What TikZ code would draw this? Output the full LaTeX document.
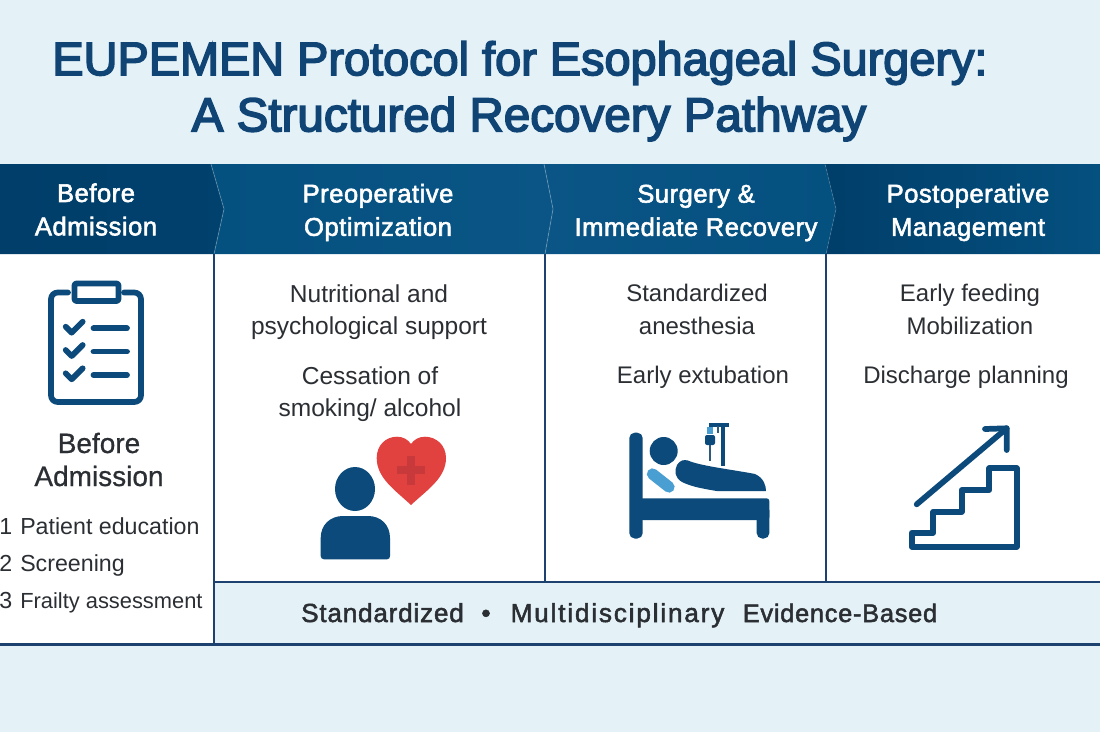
\documentclass[tikz,border=0pt]{standalone}
\usepackage{fontspec}
\setmainfont{Liberation Sans}
\newfontfamily\semifont[FakeBold=3.4]{Liberation Sans}
\newfontfamily\medfont[FakeBold=0.7]{Liberation Sans}
\newfontfamily\headfont[FakeBold=2.2,LetterSpace=2]{Liberation Sans}
\newfontfamily\footfont[FakeBold=2,LetterSpace=3]{Liberation Sans}
\newfontfamily\footwidefont[FakeBold=2,LetterSpace=7]{Liberation Sans}
\definecolor{bgc}{HTML}{E4F2F8}
\definecolor{navy}{HTML}{0B4A7A}
\definecolor{titlec}{HTML}{0F4474}
\definecolor{linec}{HTML}{1E4270}
\definecolor{ink}{HTML}{2B2F33}
\definecolor{hdA}{HTML}{013E6A}
\definecolor{hdB}{HTML}{04507F}
\definecolor{hdC}{HTML}{0A5585}
\definecolor{heartc}{HTML}{E2423F}
\definecolor{crossc}{HTML}{C8393B}
\definecolor{sky}{HTML}{4A9FD2}
\tikzset{
  titletxt/.style={inner sep=0,text=titlec,font=\fontsize{35.15}{42}\semifont,align=center},
  titlewide/.style={inner sep=0,text=titlec,font=\fontsize{35.7}{42}\semifont,align=center},
  headtxt/.style={inner sep=0,text=white,font=\fontsize{19.2}{25}\headfont,align=center},
  bodytxt/.style={inner sep=0,text=ink,font=\fontsize{18}{24.5}\selectfont,align=center},
  bodywide/.style={inner sep=0,text=ink,font=\fontsize{18.4}{24.5}\selectfont,align=center},
  listtxt/.style={inner sep=0,text=ink,font=\fontsize{17.4}{20}\selectfont,anchor=base west},
  listtight/.style={inner sep=0,text=ink,font=\fontsize{16.4}{20}\selectfont,anchor=base west},
  subtxt/.style={inner sep=0,text=ink,font=\fontsize{21}{24.75}\medfont,align=center},
  foottxt/.style={inner sep=0,text=ink,font=\fontsize{19.6}{24}\footfont,anchor=base},
  footwide/.style={inner sep=0,text=ink,font=\fontsize{19.6}{24}\footwidefont,anchor=base},
  footshort/.style={inner sep=0,text=ink,font=\fontsize{19}{24}\footfont,anchor=base},
  rule/.style={draw=linec,line width=1.4pt},
  icon/.style={draw=navy,line width=4.3pt,line cap=round,line join=round}
}
\begin{document}
\begin{tikzpicture}[x=0.75pt,y=-0.75pt]
\useasboundingbox (0,0) rectangle (1100,732);
\fill[bgc] (0,0) rectangle (1100,732);
% panel
\fill[white] (0,254) rectangle (1100,644);
\fill[bgc] (214,582) rectangle (1100,644);
% header bands
\shade[left color=hdA,right color=hdA!85!hdB] (0,164) -- (211,164) -- (224,209) -- (214,254) -- (0,254) -- cycle;
\shade[left color=hdB,right color=hdC] (211,164) -- (544,164) -- (553,209) -- (545,254) -- (214,254) -- (224,209) -- cycle;
\shade[left color=hdC,right color=hdB] (544,164) -- (825,164) -- (836,209) -- (826,254) -- (545,254) -- (553,209) -- cycle;
\shade[left color=hdA,right color=hdB] (825,164) -- (1100,164) -- (1100,254) -- (826,254) -- (836,209) -- cycle;
\draw[white,opacity=.22,line width=.7pt] (211,164) -- (224,209) -- (214,254);
\draw[white,opacity=.22,line width=.7pt] (544,164) -- (553,209) -- (545,254);
\draw[white,opacity=.12,line width=.7pt] (825,164) -- (836,209) -- (826,254);
% rules
\draw[rule] (214,254) -- (214,644);
\draw[rule] (545,254) -- (545,582);
\draw[rule] (826,254) -- (826,582);
\draw[rule] (214,582) -- (1100,582);
\draw[rule,line width=2pt] (0,644.5) -- (1100,644.5);
% title
\node[titletxt] (t1) at (520,63) {EUPEMEN Protocol for Esophageal Surgery:};
\node[titlewide] (t2) at (529,119) {A Structured Recovery Pathway};
% headers
\node[headtxt] (h1) at (96,209.5) {Before\\Admission};
\node[headtxt] (h2) at (378,212.5) {Preoperative\\Optimization};
\node[headtxt] (h3) at (696,213) {Surgery \&\\Immediate Recovery};
\node[headtxt] (h4) at (968,212.5) {Postoperative\\Management};
% column 1
\node[subtxt] (s1) at (99,459.5) {Before\\Admission};
\node[listtxt] (n1) at (-1,534) {1};
\node[listtxt] (l1) at (20,534) {Patient education};
\node[listtxt] (n2) at (-1,571) {2};
\node[listtxt] (l2) at (20,571) {Screening};
\node[listtxt] (n3) at (-1,608) {3};
\node[listtight] (l3) at (20,608) {Frailty assessment};
% column 2
\node[bodywide] (b1) at (369,312) {Nutritional and\\psychological support};
\node[bodywide] (b2) at (370,394) {Cessation of\\smoking/ alcohol};
% column 3
\node[bodytxt] (c1) at (697,309.5) {Standardized\\anesthesia};
\node[bodytxt] (c2) at (703,377) {Early extubation};
% column 4
\node[bodytxt] (d1) at (970,309.5) {Early feeding\\Mobilization};
\node[bodytxt] (d2) at (966,377) {Discharge planning};
% footer
\node[foottxt] (f1) at (382.5,622) {Standardized};
\node[foottxt] (f2) at (486,622) {•};
\node[footwide] (f3) at (617.5,622) {Multidisciplinary};
\node[footshort] (f4) at (840,622) {Evidence-Based};
% clipboard icon
\draw[icon,rounded corners=5pt] (68,292.5) -- (51,292.5) -- (51,402) -- (141,402) -- (141,292.5) -- (124,292.5);
\draw[icon,rounded corners=1.5pt] (74.5,283.5) rectangle (118.5,301);
\foreach \dy in {0,23.3,46.6}{
  \draw[icon] (65.7,326.7+\dy) -- (71.7,332.7+\dy) -- (82.7,321.7+\dy);
  \draw[icon] (93.5,328.3+\dy) -- (127,328.3+\dy);
}
% heart and person
\fill[heartc] (411,505) .. controls (395,490) and (376.7,478) .. (376.7,458) .. controls (376.7,445) and (386,436.7) .. (397,436.7) .. controls (403,436.7) and (408,439.5) .. (411,444) .. controls (414,439.5) and (419,436.7) .. (425,436.7) .. controls (436,436.7) and (446,445) .. (446,458) .. controls (446,478) and (427,490) .. (411,505) -- cycle;
\fill[crossc] (407,456) rectangle (415,485);
\fill[crossc] (397,466) rectangle (425,474);
\fill[navy] (355,489) ellipse[x radius=20,y radius=22];
\fill[navy] (320.7,556) -- (320.7,538) .. controls (320.7,525) and (330,516) .. (343,516) -- (368,516) .. controls (381,516) and (390,525) .. (390,538) -- (390,556) .. controls (390,558) and (389,559.3) .. (387,559.3) -- (324,559.3) .. controls (322,559.3) and (320.7,558) .. (320.7,556) -- cycle;
% bed
\fill[navy,rounded corners=4pt] (629.3,432.7) rectangle (642.7,538.5);
\fill[navy,rounded corners=2pt] (640,498.3) rectangle (769.3,520);
\fill[navy,rounded corners=4pt] (756.7,505) rectangle (769.3,538.5);
\fill[navy] (663.7,451) circle[radius=14];
\draw[sky,line width=8.5pt,line cap=round] (652.5,474) -- (669,487);
\fill[navy] (677,465) .. controls (680,460) and (684,459.5) .. (688,460.5) .. controls (700,466) and (735,470) .. (755,474) .. controls (764,478) and (766,486) .. (766,491) -- (716.7,491) .. controls (705,489) and (692,487) .. (682,482) .. controls (675,478) and (674,471) .. (677,465) -- cycle;
\draw[navy,line width=2.6pt] (723,425) -- (723,466);
\draw[navy,line width=2.6pt] (709,425) -- (729,425);
\fill[sky] (707,427) rectangle (713,434);
\fill[navy,rounded corners=1.5pt] (705,435) rectangle (715,445);
\draw[navy!70!gray,line width=1.4pt] (710,445) -- (710,461);
\draw[navy!70!gray,line width=.8pt] (718,426) -- (718,433);
% stairs
\draw[icon] (916.7,504.3) -- (1006.7,428.3);
\draw[icon] (985,429) -- (1006.7,428.3) -- (1006.7,450);
\draw[icon] (911.7,532.7) -- (933.3,532.7) -- (933.3,511.7) -- (961.7,511.7) -- (961.7,490) -- (989.3,490) -- (989.3,468.3) -- (1016.7,468.3) -- (1016.7,546.7) -- (911.7,546.7) -- cycle;
\end{tikzpicture}
\end{document}
